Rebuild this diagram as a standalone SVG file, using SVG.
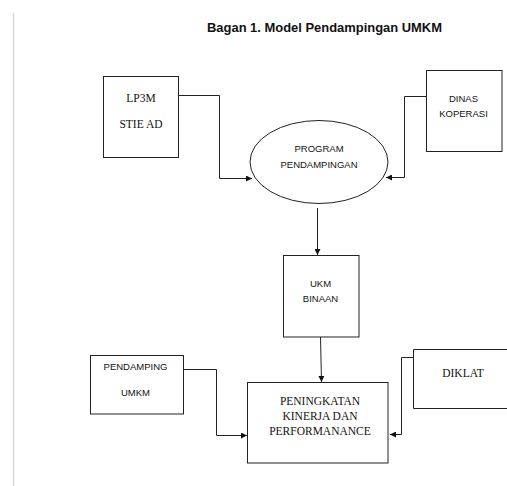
<svg xmlns="http://www.w3.org/2000/svg" width="507" height="486" viewBox="0 0 507 486">
<style>
.box{fill:#fff;stroke:#222;stroke-width:1}
.ln{fill:none;stroke:#222;stroke-width:1}
.serif{font-family:"Liberation Serif","Times New Roman",serif;font-size:11.5px;fill:#111;text-anchor:middle}
.sans{font-family:"Liberation Sans",Arial,sans-serif;font-size:9.5px;fill:#111;text-anchor:middle}
.title{font-family:"Liberation Sans",Arial,sans-serif;font-size:12.5px;font-weight:bold;fill:#111;text-anchor:middle}
</style>
<defs>
<marker id="ah" viewBox="0 0 6 6" refX="6" refY="3" markerWidth="6" markerHeight="6" markerUnits="userSpaceOnUse" orient="auto">
<path d="M0,0 L6,3 L0,6 Z" fill="#111"/>
</marker>
</defs>
<rect width="507" height="486" fill="#fff"/>
<line x1="13.5" y1="13" x2="13.5" y2="486" stroke="#d8d8d8" stroke-width="1.5"/>
<text class="title" x="324.5" y="32" textLength="235" lengthAdjust="spacingAndGlyphs">Bagan 1. Model Pendampingan UMKM</text>

<g id="connectors">
<polyline class="ln" points="178,95.5 219.5,95.5 219.5,178.5 252,178.5" marker-end="url(#ah)"/>
<polyline class="ln" points="426,96.5 404.5,96.5 404.5,177.5 386,177.5" marker-end="url(#ah)"/>
<line class="ln" x1="317.5" y1="208" x2="317.5" y2="255" marker-end="url(#ah)"/>
<line class="ln" x1="320.5" y1="337" x2="321.5" y2="382" marker-end="url(#ah)"/>
<polyline class="ln" points="183,369.5 216.5,369.5 216.5,435.5 247,435.5" marker-end="url(#ah)"/>
<polyline class="ln" points="413,357.5 401.5,357.5 401.5,434.5 390,434.5" marker-end="url(#ah)"/>
</g>

<g id="lp3m">
<rect class="box" x="103.5" y="76.5" width="75" height="81"/>
<text class="serif" x="141" y="102">LP3M</text>
<text class="serif" x="141" y="128">STIE AD</text>
</g>
<g id="dinas">
<rect class="box" x="426.5" y="70.5" width="75.5" height="81"/>
<text class="sans" x="463.5" y="102">DINAS</text>
<text class="sans" x="463.5" y="117">KOPERASI</text>
</g>
<g id="program">
<ellipse class="box" cx="319" cy="162" rx="69" ry="41.5"/>
<text class="sans" x="319" y="152">PROGRAM</text>
<text class="sans" x="319" y="168">PENDAMPINGAN</text>
</g>
<g id="ukm">
<rect class="box" x="283.5" y="255.5" width="75.5" height="81.5"/>
<text class="sans" x="320.5" y="287">UKM</text>
<text class="sans" x="320.5" y="302">BINAAN</text>
</g>
<g id="peningkatan">
<rect class="box" x="247.5" y="382.5" width="140.5" height="80.5"/>
<text class="serif" x="320" y="405">PENINGKATAN</text>
<text class="serif" x="320" y="420">KINERJA DAN</text>
<text class="serif" x="320" y="435">PERFORMANANCE</text>
</g>
<g id="pendamping">
<rect class="box" x="90.5" y="355.5" width="93" height="58.5"/>
<text class="sans" x="135.5" y="370">PENDAMPING</text>
<text class="sans" x="135.5" y="396">UMKM</text>
</g>
<g id="diklat">
<path class="ln" d="M510,349.5 H413.5 V408.5 H510"/>
<text class="serif" x="463" y="377">DIKLAT</text>
</g>
</svg>
